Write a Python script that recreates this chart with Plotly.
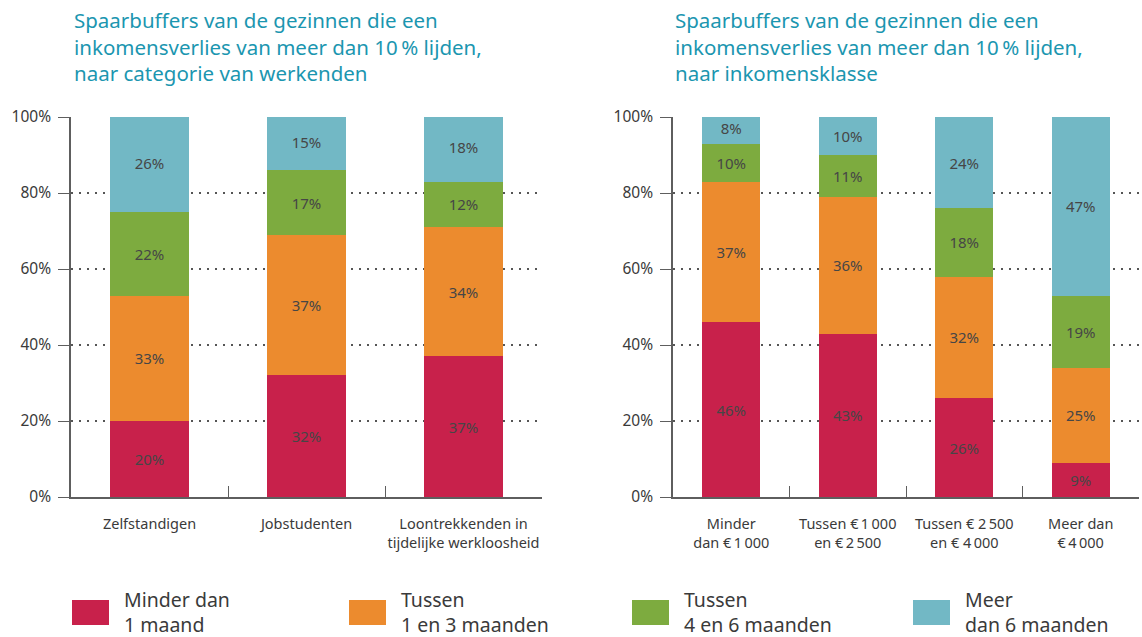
import plotly.graph_objects as go

# ---------------- data ----------------
series_names = ["Minder dan<br>1 maand", "Tussen<br>1 en 3 maanden",
                "Tussen<br>4 en 6 maanden", "Meer<br>dan 6 maanden"]
series_colors = ["#c8214b", "#ec8b2e", "#7dab3f", "#72b8c5"]

left_categories = ["Zelfstandigen", "Jobstudenten",
                   "Loontrekkenden in<br>tijdelijke werkloosheid"]
left_minder_1 = [20, 32, 37]
left_1_3 = [33, 37, 34]
left_4_6 = [22, 17, 12]
left_meer_6 = [26, 15, 18]

right_categories = ["Minder<br>dan €\u202f1\u202f000", "Tussen €\u202f1\u202f000<br>en €\u202f2\u202f500",
                    "Tussen € 2\u202f500<br>en € 4\u202f000", "Meer dan<br>€\u202f4\u202f000"]
right_minder_1 = [46, 43, 26, 9]
right_1_3 = [37, 36, 32, 25]
right_4_6 = [10, 11, 18, 19]
right_meer_6 = [8, 10, 24, 47]

left_title_lines = ["Spaarbuffers van de gezinnen die een",
                    "inkomensverlies van meer dan 10\u202f% lijden,",
                    "naar categorie van werkenden"]
right_title_lines = ["Spaarbuffers van de gezinnen die een",
                     "inkomensverlies van meer dan 10\u202f% lijden,",
                     "naar inkomensklasse"]

y_ticks = [0, 20, 40, 60, 80, 100]
y_ticktext = [f"{v}%" for v in y_ticks]

# ---------------- figure ----------------
W, H = 1142, 637
FONT = "Noto Sans"
TXT = "#3a3a3a"
TITLE_C = "#1b96b0"

fig = go.Figure()

left_series = [left_minder_1, left_1_3, left_4_6, left_meer_6]
right_series = [right_minder_1, right_1_3, right_4_6, right_meer_6]

for axes, cats, all_vals in [(("x", "y"), left_categories, left_series),
                             (("x2", "y2"), right_categories, right_series)]:
    for name, color, vals in zip(series_names, series_colors, all_vals):
        fig.add_trace(go.Bar(
            x=cats, y=vals, name=name, marker=dict(color=color, line=dict(width=0)),
            width=0.5, text=[f"{v}%" for v in vals], texttemplate="%{text}",
            textposition="inside", insidetextanchor="middle", textangle=0,
            textfont=dict(family=FONT, size=15, color="#464646"),
            xaxis=axes[0], yaxis=axes[1], showlegend=False, hoverinfo="skip"))

y_bottom = 1 - 497 / H
y_top = 1 - 117 / H

xaxis_common = dict(
    type="category", showline=True, linecolor="#5e5e5e", linewidth=1.6,
    ticks="inside", tickson="boundaries", ticklen=11, tickcolor="#5e5e5e", tickwidth=1.4,
    tickfont=dict(family=FONT, size=14.5, color=TXT), tickangle=0,
    showgrid=False, zeroline=False,
    ticklabelstandoff=13, automargin=False, fixedrange=True)
yaxis_common = dict(
    range=[0, 100], tickvals=y_ticks, ticktext=y_ticktext,
    showline=True, linecolor="#5e5e5e", linewidth=1.6,
    ticks="outside", ticklen=11, tickcolor="#5e5e5e", tickwidth=1.4,
    tickfont=dict(family=FONT, size=15.5, color=TXT),
    showgrid=True, gridcolor="#555555", gridwidth=1.6, griddash="2px,6px",
    zeroline=False, domain=[y_bottom, y_top], ticklabelstandoff=4,
    automargin=False, fixedrange=True)

fig.update_layout(
    width=W, height=H, margin=dict(l=0, r=0, t=0, b=0, pad=0),
    paper_bgcolor="white", plot_bgcolor="white", barmode="stack",
    font=dict(family=FONT, color=TXT), showlegend=False,
    xaxis=dict(domain=[71 / W, 542 / W], anchor="y", **xaxis_common),
    yaxis=dict(anchor="x", **yaxis_common),
    xaxis2=dict(domain=[673 / W, 1139 / W], anchor="y2", **xaxis_common),
    yaxis2=dict(anchor="x2", **yaxis_common),
    uniformtext=dict(mode=False),
)

# titles
for xpx, lines in [(72, left_title_lines), (673, right_title_lines)]:
    fig.add_annotation(x=xpx / W, y=1 - 46 / H, xref="paper", yref="paper",
                       xanchor="left", yanchor="middle", align="left", showarrow=False,
                       text="<br>".join(lines), font=dict(family=FONT, size=20.5, color=TITLE_C))

# legend (squares + labels)
legend_x = [72, 349, 632, 913]
for xpx, name, color in zip(legend_x, series_names, series_colors):
    fig.add_shape(type="rect", xref="paper", yref="paper",
                  x0=xpx / W, x1=(xpx + 37) / W, y0=1 - 625 / H, y1=1 - 600 / H,
                  fillcolor=color, line=dict(width=0))
    fig.add_annotation(x=(xpx + 50) / W, y=1 - 612 / H, xref="paper", yref="paper",
                       xanchor="left", yanchor="middle", align="left", showarrow=False,
                       text=name, font=dict(family=FONT, size=19.5, color=TXT))

fig.write_html("out.html", config={"displayModeBar": False},
               post_script="document.body.style.margin='0';document.body.style.overflow='hidden';")
